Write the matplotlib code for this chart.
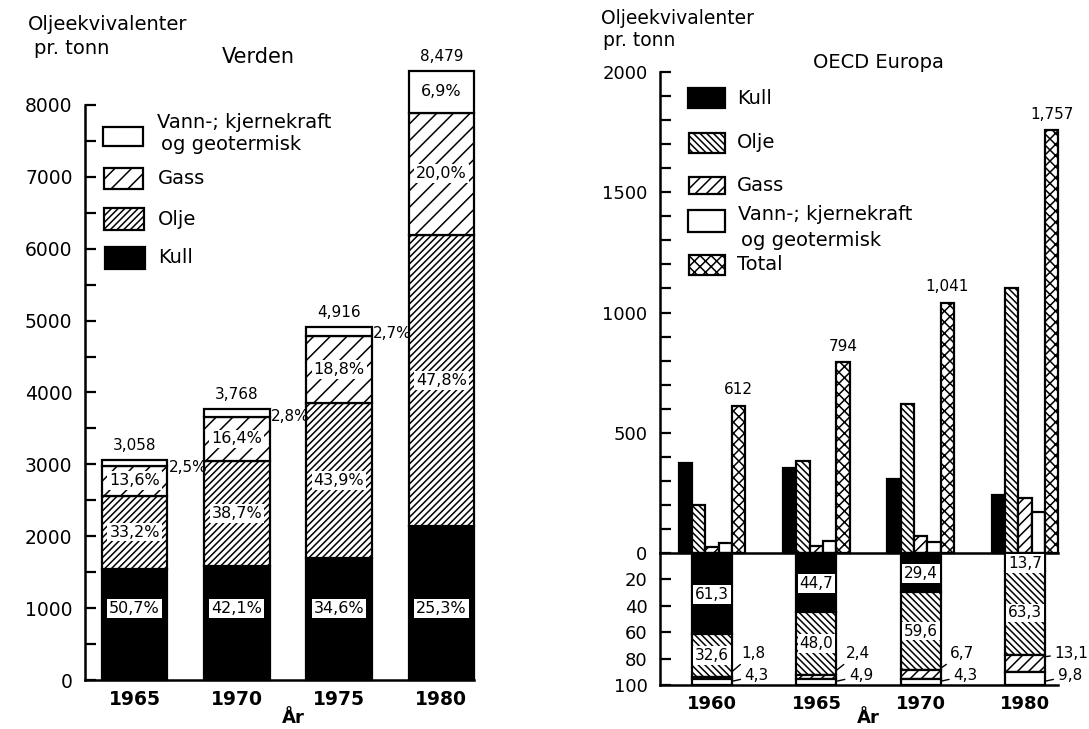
import matplotlib
matplotlib.use('Agg')
import matplotlib.pyplot as plt
from matplotlib.patches import Rectangle
import numpy as np

plt.rcParams['font.family'] = ['DejaVu Sans']
plt.rcParams['hatch.linewidth'] = 1.1

W, H = 1089, 729

# ---------------- Data: Verden ----------------
world_years = ['1965', '1970', '1975', '1980']
world_totals = [3058, 3768, 4916, 8479]
world_total_labels = ['3,058', '3,768', '4,916', '8,479']
world_kull_pct = [50.7, 42.1, 34.6, 25.3]
world_olje_pct = [33.2, 38.7, 43.9, 47.8]
world_gass_pct = [13.6, 16.4, 18.8, 20.0]
world_vann_pct = [2.5, 2.8, 2.7, 6.9]

# ---------------- Data: OECD Europa ----------------
oecd_years = ['1960', '1965', '1970', '1980']
oecd_kull = [375, 355, 306, 241]
oecd_olje = [200, 381, 620, 1100]
oecd_gass = [25, 30, 70, 230]
oecd_vann = [40, 50, 45, 172]
oecd_total = [612, 794, 1041, 1757]
oecd_total_labels = ['612', '794', '1,041', '1,757']
oecd_kull_pct = [61.3, 44.7, 29.4, 13.7]
oecd_olje_pct = [32.6, 48.0, 59.6, 63.3]
oecd_gass_pct = [1.8, 2.4, 6.7, 13.1]
oecd_vann_pct = [4.3, 4.9, 4.3, 9.8]

HATCH_W_OLJE = '/////'
HATCH_W_GASS = '//'
HATCH_E_OLJE = '\\\\\\\\\\'
HATCH_E_GASS = '///'
HATCH_E_TOT = 'xxx'


def fmt(v, pct=True):
    s = f"{v:.1f}".replace('.', ',')
    return s + '%' if pct else s


def fx(x):
    return x / W


def fy(y):
    return 1 - y / H


fig = plt.figure(figsize=(W / 100, H / 100), dpi=100)
fig.patch.set_facecolor('white')

BOX = dict(boxstyle='square,pad=0.12', facecolor='white', edgecolor='none')
LW = 1.6

# =============== Left chart ===============
ax1 = fig.add_axes([fx(85), fy(680), fx(474 - 85), 575 / H])
ax1.set_xlim(-0.485, 3.32)
ax1.set_ylim(0, 8000)
x = np.arange(len(world_years))
w = 0.64
tot = np.array(world_totals, dtype=float)
kull = tot * np.array(world_kull_pct) / 100
olje = tot * np.array(world_olje_pct) / 100
gass = tot * np.array(world_gass_pct) / 100
vann = tot * np.array(world_vann_pct) / 100
b1 = kull
b2 = b1 + olje
b3 = b2 + gass

ax1.bar(x, kull, w, color='black', edgecolor='black', lw=LW, clip_on=False)
ax1.bar(x, olje, w, bottom=b1, facecolor='white', edgecolor='black', hatch=HATCH_W_OLJE, lw=LW, clip_on=False)
ax1.bar(x, gass, w, bottom=b2, facecolor='white', edgecolor='black', hatch=HATCH_W_GASS, lw=LW, clip_on=False)
ax1.bar(x, vann, w, bottom=b3, facecolor='white', edgecolor='black', lw=LW, clip_on=False)

for i in range(len(x)):
    ax1.text(x[i], 1000, fmt(world_kull_pct[i]), ha='center', va='center', fontsize=11.5, bbox=BOX)
    ax1.text(x[i], b1[i] + olje[i] / 2, fmt(world_olje_pct[i]), ha='center', va='center', fontsize=11.5, bbox=BOX)
    ax1.text(x[i], b2[i] + gass[i] / 2, fmt(world_gass_pct[i]), ha='center', va='center', fontsize=11.5, bbox=BOX)
    if world_vann_pct[i] > 5:
        ax1.text(x[i], b3[i] + vann[i] / 2, fmt(world_vann_pct[i]), ha='center', va='center', fontsize=11.5, bbox=BOX)
    else:
        ax1.annotate(fmt(world_vann_pct[i]), (x[i] + w / 2, tot[i]), xytext=(1, -5),
                     textcoords='offset points', ha='left', va='center', fontsize=11,
                     annotation_clip=False)
    ax1.annotate(world_total_labels[i], (x[i], tot[i]), xytext=(0, 5), textcoords='offset points',
                 ha='center', va='bottom', fontsize=11, annotation_clip=False)

for s in ['top', 'right']:
    ax1.spines[s].set_visible(False)
for s in ['left', 'bottom']:
    ax1.spines[s].set_linewidth(1.8)
ax1.set_yticks(range(0, 8001, 1000))
ax1.set_yticks(range(500, 8000, 1000), minor=True)
ax1.tick_params(axis='y', which='both', direction='in', length=8, width=1.6, labelsize=13.5, pad=9)
ax1.set_xticks(x)
ax1.set_xticklabels(world_years, fontsize=13.5, fontweight='bold')
ax1.tick_params(axis='x', length=0, pad=7)

fig.text(fx(28), fy(24), 'Oljeekvivalenter', fontsize=14, ha='left', va='center')
fig.text(fx(34), fy(48), 'pr. tonn', fontsize=14, ha='left', va='center')
fig.text(fx(258), fy(57), 'Verden', fontsize=15, ha='center', va='center')
fig.text(fx(282), fy(718), 'År', fontsize=13, fontweight='bold', ha='left', va='center')

# left legend
leg_left = [
    ((103, 127, 40, 19), dict(facecolor='white'), ['Vann-; kjernekraft', 'og geotermisk']),
    ((104, 168, 39, 21), dict(facecolor='white', hatch=HATCH_W_GASS), ['Gass']),
    ((104, 208, 40, 22), dict(facecolor='white', hatch=HATCH_W_OLJE), ['Olje']),
    ((105, 247, 40, 22), dict(facecolor='black'), ['Kull']),
]
for (px, py, pw, ph), style, labels in leg_left:
    fig.add_artist(Rectangle((fx(px), fy(py + ph)), pw / W, ph / H, transform=fig.transFigure,
                             edgecolor='black', lw=LW, **style))
    if len(labels) == 2:
        fig.text(fx(157), fy(122), labels[0], fontsize=14, ha='left', va='center')
        fig.text(fx(161), fy(145), labels[1], fontsize=14, ha='left', va='center')
    else:
        fig.text(fx(158), fy(py + ph / 2), labels[0], fontsize=14, ha='left', va='center')

# =============== Right chart ===============
xlim_r = (-0.5, 3.316)
axT = fig.add_axes([fx(660), fy(553), fx(398), 481 / H])
axB = fig.add_axes([fx(660), fy(685), fx(398), 132 / H])
for a in (axT, axB):
    a.set_xlim(*xlim_r)
    a.patch.set_alpha(0)
axT.set_ylim(0, 2000)
axB.set_ylim(100, 0)

xr = np.arange(len(oecd_years))
bw = 0.1275
series = [
    (oecd_kull, dict(facecolor='black')),
    (oecd_olje, dict(facecolor='white', hatch=HATCH_E_OLJE)),
    (oecd_gass, dict(facecolor='white', hatch=HATCH_E_GASS)),
    (oecd_vann, dict(facecolor='white')),
    (oecd_total, dict(facecolor='white', hatch=HATCH_E_TOT)),
]
for k, (vals, style) in enumerate(series):
    axT.bar(xr + (k - 2) * bw, vals, bw, edgecolor='black', lw=LW, clip_on=False, **style)
for i in range(len(xr)):
    axT.annotate(oecd_total_labels[i], (xr[i] + 2 * bw, oecd_total[i]), xytext=(0, 6),
                 textcoords='offset points', ha='center', va='bottom', fontsize=11,
                 annotation_clip=False)

# bottom percentage bars
kp = np.array(oecd_kull_pct)
op = np.array(oecd_olje_pct)
gp = np.array(oecd_gass_pct)
vp = np.array(oecd_vann_pct)
c1 = kp
c2 = c1 + op
c3 = c2 + gp
pw_ = 3 * bw
axB.bar(xr, kp, pw_, color='black', edgecolor='black', lw=LW, clip_on=False)
axB.bar(xr, op, pw_, bottom=c1, facecolor='white', edgecolor='black', hatch=HATCH_E_OLJE, lw=LW, clip_on=False)
axB.bar(xr, gp, pw_, bottom=c2, facecolor='white', edgecolor='black', hatch=HATCH_E_GASS, lw=LW, clip_on=False)
axB.bar(xr, vp, pw_, bottom=c3, facecolor='white', edgecolor='black', lw=LW, clip_on=False)
for i in range(len(xr)):
    axB.text(xr[i], kp[i] / 2 + 1, fmt(kp[i], False), ha='center', va='center', fontsize=11, bbox=BOX)
    axB.text(xr[i], c1[i] + op[i] / 2, fmt(op[i], False), ha='center', va='center', fontsize=11, bbox=BOX)
    right = xr[i] + pw_ / 2
    axB.annotate(fmt(gp[i], False), xy=(right, c2[i] + gp[i] / 2 - 5), xytext=(right + 0.09, 76),
                 ha='left', va='center', fontsize=11, annotation_clip=False,
                 arrowprops=dict(arrowstyle='-', lw=1, shrinkA=1, shrinkB=0))
    axB.annotate(fmt(vp[i], False), xy=(right + 0.01, 97), xytext=(right + 0.12, 93),
                 ha='left', va='center', fontsize=11, annotation_clip=False,
                 arrowprops=dict(arrowstyle='-', lw=1, shrinkA=1, shrinkB=0))

for a in (axT, axB):
    a.spines['top'].set_visible(False)
    a.spines['right'].set_visible(False)
    a.spines['left'].set_linewidth(1.8)
    a.spines['bottom'].set_linewidth(1.8)
axT.set_xticks([])
axT.set_yticks(range(0, 2001, 500))
axT.set_yticks(range(100, 2000, 100), minor=True)
axT.tick_params(axis='y', which='both', direction='in', length=8, width=1.6, labelsize=13, pad=9)
axB.set_yticks([20, 40, 60, 80, 100])
axB.tick_params(axis='y', direction='in', length=8, width=1.6, labelsize=13, pad=9)
axB.set_xticks(xr)
axB.set_xticklabels(oecd_years, fontsize=13, fontweight='bold')
axB.tick_params(axis='x', length=0, pad=7)

fig.text(fx(601), fy(19), 'Oljeekvivalenter', fontsize=13.5, ha='left', va='center')
fig.text(fx(603), fy(41), 'pr. tonn', fontsize=13.5, ha='left', va='center')
fig.text(fx(878), fy(62), 'OECD Europa', fontsize=14, ha='center', va='center')
fig.text(fx(857), fy(718), 'År', fontsize=13, fontweight='bold', ha='left', va='center')

leg_right = [
    ((688, 88, 37, 20), dict(facecolor='black'), ['Kull']),
    ((689, 133, 36, 20), dict(facecolor='white', hatch=HATCH_E_OLJE), ['Olje']),
    ((689, 177, 36, 17), dict(facecolor='white', hatch=HATCH_E_GASS), ['Gass']),
    ((688, 210, 37, 22), dict(facecolor='white'), ['Vann-; kjernekraft', 'og geotermisk']),
    ((689, 255, 36, 20), dict(facecolor='white', hatch=HATCH_E_TOT), ['Total']),
]
for (px, py, pw, ph), style, labels in leg_right:
    fig.add_artist(Rectangle((fx(px), fy(py + ph)), pw / W, ph / H, transform=fig.transFigure,
                             edgecolor='black', lw=LW, **style))
    if len(labels) == 2:
        fig.text(fx(738), fy(215), labels[0], fontsize=14, ha='left', va='center')
        fig.text(fx(741), fy(240), labels[1], fontsize=14, ha='left', va='center')
    else:
        fig.text(fx(737), fy(py + ph / 2), labels[0], fontsize=14, ha='left', va='center')

fig.savefig('out.png', dpi=100)
